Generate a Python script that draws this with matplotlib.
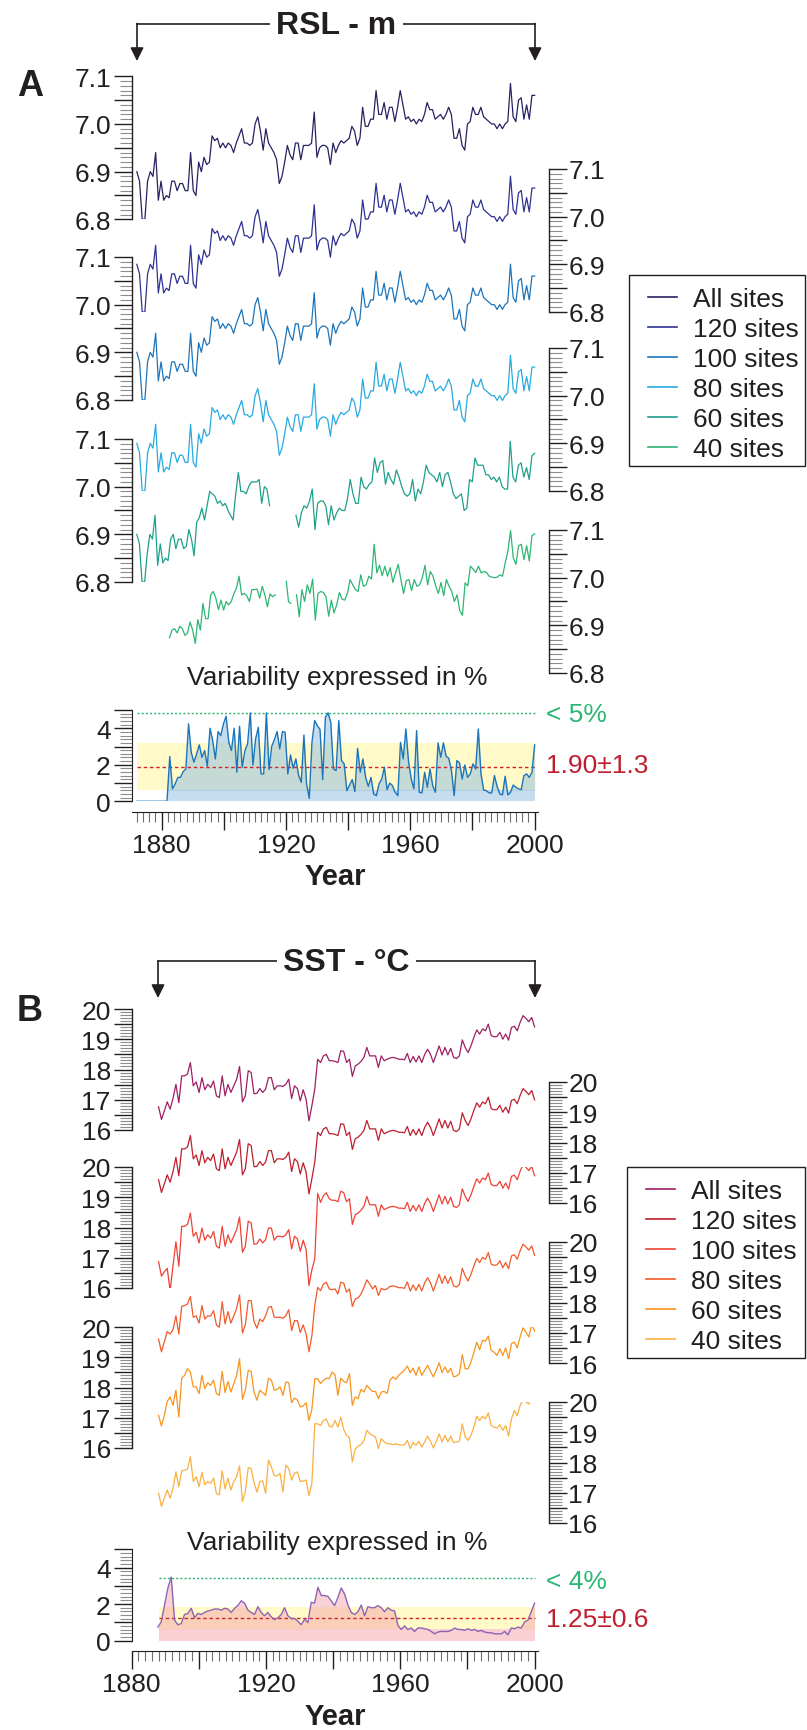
import numpy as np
import matplotlib
matplotlib.use('Agg')
import matplotlib.pyplot as plt
from matplotlib.ticker import MultipleLocator, FuncFormatter
from matplotlib.lines import Line2D
from matplotlib.patches import Rectangle, FancyArrowPatch

plt.rcParams['font.family'] = ['Liberation Sans', 'DejaVu Sans']

# ---------------------------------------------------------------- data
series_labels = ['All sites', '120 sites', '100 sites', '80 sites', '60 sites', '40 sites']
rsl_colors = ['#262262', '#2e3192', '#1c75bc', '#27aae1', '#1fa08c', '#2db573']
sst_colors = ['#9e1f63', '#be1e2d', '#ef4136', '#f15a29', '#f7941d', '#fbb040']

# RSL (m), read along 1872-2000
rsl_all = [6.90, 6.88, 6.80, 6.80, 6.88, 6.90, 6.89, 6.94, 6.84, 6.88, 6.84, 6.85, 6.845, 6.88, 6.88, 6.86,
           6.875, 6.875, 6.86, 6.86, 6.94, 6.86, 6.85, 6.92, 6.90, 6.93, 6.915, 6.92, 6.975, 6.965, 6.97,
           6.95, 6.96, 6.95, 6.96, 6.955, 6.94, 6.96, 6.975, 6.99, 6.96, 6.96, 6.955, 6.96, 7.00, 7.015,
           6.985, 6.945, 6.99, 6.96, 6.95, 6.94, 6.925, 6.875, 6.89, 6.92, 6.955, 6.935, 6.925, 6.96, 6.96,
           6.925, 6.955, 6.955, 6.955, 6.96, 7.025, 6.93, 6.95, 6.955, 6.955, 6.95, 6.915, 6.96, 6.94, 6.955,
           6.965, 6.96, 6.965, 6.97, 6.995, 6.985, 6.955, 6.97, 7.035, 6.995, 6.995, 7.01, 7.01, 7.07, 7.02,
           7.02, 7.045, 7.01, 7.035, 7.035, 7.005, 7.035, 7.07, 7.04, 7.01, 7.015, 7.005, 7.01, 7.0, 7.01,
           7.005, 7.02, 7.045, 7.03, 7.03, 7.01, 7.015, 7.02, 7.01, 7.02, 7.035, 7.02, 6.97, 6.97, 6.99,
           6.955, 6.945, 7.0, 7.005, 7.035, 7.02, 7.02, 7.035, 7.015, 7.01, 7.005, 7.0, 7.0, 6.99, 7.0, 6.99,
           7.0, 7.005, 7.085, 7.015, 7.005, 7.05, 7.055, 7.01, 7.04, 7.01, 7.06, 7.06]
rsl_120 = list(rsl_all)   # identical curve in the picture
rsl_100 = list(rsl_all)
rsl_80 = list(rsl_all)
rsl_60_a = [6.90, 6.88, 6.80, 6.80, 6.86, 6.90, 6.89, 6.94, 6.835, 6.88, 6.84, 6.85, 6.845, 6.89, 6.90, 6.87,
            6.89, 6.89, 6.87, 6.875, 6.91, 6.89, 6.855, 6.925, 6.935, 6.955, 6.93, 6.96, 6.99, 6.985, 6.98,
            6.965, 6.97, 6.96, 6.965, 6.95, 6.94, 6.93, 6.985, 7.03, 6.99, 6.99, 6.985, 7.0, 7.01, 7.01, 7.01,
            7.015, 6.965, 7.0, 6.995, 6.96]
rsl_60_b = [6.94, 6.915, 6.945, 6.96, 6.955, 6.97, 6.995, 6.91, 6.965, 6.97, 6.97, 6.96, 6.92, 6.96, 6.93,
            6.945, 6.955, 6.95, 6.95, 6.975, 7.015, 6.985, 6.965, 6.965, 7.02, 7.0, 6.995, 7.005, 7.01, 7.06,
            7.03, 7.05, 7.055, 7.005, 7.03, 7.015, 7.005, 7.035, 7.02, 7.0, 6.985, 6.98, 6.985, 7.015, 6.97,
            6.995, 6.985, 7.01, 7.045, 7.03, 7.025, 7.02, 7.01, 7.03, 7.0, 7.025, 7.03, 7.01, 6.985, 6.975,
            6.98, 6.985, 6.95, 6.955, 7.015, 7.01, 7.06, 7.045, 7.045, 7.045, 7.025, 7.025, 7.015, 7.02, 7.01,
            7.02, 7.0, 6.995, 6.995, 7.095, 7.02, 7.01, 7.045, 7.05, 7.02, 7.04, 7.015, 7.065, 7.07]
rsl_40_a = [6.874, 6.89, 6.893, 6.884, 6.898, 6.893, 6.879, 6.884, 6.907, 6.89, 6.862, 6.912, 6.89, 6.946,
            6.914, 6.914, 6.964, 6.971, 6.957, 6.933, 6.953, 6.932, 6.95, 6.943, 6.95, 6.967, 6.978, 7.003,
            6.964, 6.967, 6.962, 6.95, 6.975, 6.975, 6.976, 6.957, 6.982, 6.964, 6.939, 6.966, 6.96, 6.964]
rsl_40_b = [6.992, 6.95, 6.946]
rsl_40_c = [6.964, 6.918, 6.975, 6.95, 6.985, 6.967, 6.997, 6.911, 6.967, 6.971, 6.969, 6.96, 6.919, 6.953,
            6.926, 6.943, 6.969, 6.955, 6.953, 6.967, 6.996, 6.985, 6.975, 6.971, 7.006, 6.982, 6.985, 7.003,
            6.997, 7.07, 7.01, 7.026, 7.004, 7.024, 7.003, 7.021, 6.99, 7.01, 7.028, 6.996, 6.967, 6.994,
            6.996, 6.973, 6.996, 6.982, 6.985, 7.0, 7.026, 6.985, 7.013, 7.003, 6.983, 6.967, 6.99, 6.962,
            6.996, 6.982, 6.971, 6.95, 6.964, 6.931, 6.921, 6.989, 6.983, 7.024, 7.018, 7.011, 7.024, 7.01,
            7.013, 7.011, 7.003, 7.001, 7.0, 7.001, 7.006, 7.003, 7.031, 7.056, 7.099, 7.042, 7.028, 7.067,
            7.07, 7.038, 7.067, 7.035, 7.088, 7.092]
rsl_segments = [
    [(rsl_all, 1872, 2000)],
    [(rsl_120, 1872, 2000)],
    [(rsl_100, 1872, 2000)],
    [(rsl_80, 1872, 2000)],
    [(rsl_60_a, 1872, 1914.7), (rsl_60_b, 1923.2, 2000)],
    [(rsl_40_a, 1882.5, 1916.5), (rsl_40_b, 1920.1, 1921.5), (rsl_40_c, 1923.4, 2000)],
]

# SST (deg C), read along 1888-2000
sst_all = [16.77, 16.35, 16.63, 16.93, 16.69, 17.04, 17.51, 16.9, 17.79, 17.79,
           17.85, 18.23, 17.46, 17.59, 17.24, 17.73, 17.33, 17.51, 17.4, 17.62,
           17.13, 17.07, 17.79, 17.13, 17.51, 17.24, 17.46, 17.68, 18.1, 16.93,
           17.13, 17.96, 17.9, 17.2, 17.21, 17.37, 17.24, 17.35, 17.73, 17.73,
           17.33, 17.46, 17.46, 17.44, 17.51, 17.68, 17.04, 17.46, 17.37, 16.96,
           17.33, 17.02, 16.3, 16.8, 17.35, 18.34, 18.23, 18.45, 18.5, 18.29,
           18.29, 18.27, 18.23, 18.62, 18.6, 18.23, 18.34, 17.77, 18.12, 18.18,
           18.27, 18.4, 18.73, 18.45, 18.45, 18.45, 18.07, 18.45, 18.29, 18.34,
           18.38, 18.4, 18.38, 18.34, 18.34, 18.32, 18.53, 18.23, 18.43, 18.25,
           18.45, 18.23, 18.5, 18.67, 18.5, 18.23, 18.5, 18.78, 18.48, 18.73,
           18.48, 18.7, 18.4, 18.36, 18.45, 18.98, 18.73, 18.56, 18.78, 19.06,
           19.31, 19.17, 19.34, 19.28, 19.5, 19.12, 19.08, 19.09, 19.23, 19.0,
           19.17, 18.97, 19.39, 19.43, 19.28, 19.56, 19.78, 19.69, 19.58, 19.72,
           19.41]
sst_120 = list(sst_all)   # identical curve in the picture
sst_100 = [16.87, 16.39, 16.54, 16.65, 15.91, 16.74, 17.53, 16.72, 18.04, 18.04,
           18.1, 18.48, 17.71, 17.84, 17.49, 17.98, 17.58, 17.76, 17.65, 17.87,
           17.38, 17.32, 18.04, 17.38, 17.76, 17.49, 17.71, 17.93, 18.35, 17.18,
           17.38, 18.21, 18.15, 17.45, 17.46, 17.62, 17.49, 17.6, 17.98, 17.98,
           17.58, 17.71, 17.71, 17.69, 17.76, 17.93, 17.29, 17.71, 17.62, 17.21,
           17.58, 17.27, 16.08, 16.6, 16.96, 19.13, 18.83, 19.05, 19.15, 18.95,
           18.9, 18.9, 18.85, 19.2, 19.15, 18.85, 18.95, 18.1, 18.42, 18.48,
           18.57, 18.7, 19.03, 18.75, 18.75, 18.75, 18.37, 18.75, 18.59, 18.64,
           18.68, 18.7, 18.68, 18.64, 18.64, 18.62, 18.83, 18.53, 18.73, 18.55,
           18.75, 18.53, 18.8, 18.97, 18.8, 18.53, 18.8, 19.08, 18.78, 19.03,
           18.78, 19.0, 18.7, 18.66, 18.75, 19.28, 19.03, 18.86, 19.08, 19.36,
           19.61, 19.47, 19.64, 19.58, 19.8, 19.42, 19.38, 19.39, 19.53, 19.3,
           19.47, 19.27, 19.69, 19.73, 19.58, 19.86, 20.08, 19.99, 19.88, 20.02,
           19.71]
sst_80 = [16.79, 16.37, 16.7, 17.04, 16.96, 17.1, 17.56, 16.96, 17.87, 17.9,
          17.95, 18.2, 17.51, 17.56, 17.32, 17.9, 17.45, 17.56, 17.55, 17.73,
          17.26, 17.18, 18.03, 17.29, 17.7, 17.32, 17.56, 17.81, 18.25, 16.99,
          17.26, 18.06, 18.06, 17.37, 17.15, 17.45, 17.37, 17.56, 17.84, 17.87,
          17.51, 17.51, 17.51, 17.48, 17.56, 17.76, 17.07, 17.4, 17.4, 17.01,
          17.26, 16.96, 16.37, 16.9, 17.9, 18.5, 18.39, 18.61, 18.67, 18.45,
          18.42, 18.45, 18.28, 18.67, 18.64, 18.34, 18.45, 17.87, 18.12, 18.15,
          18.28, 18.5, 18.75, 18.61, 18.45, 18.56, 18.23, 18.47, 18.42, 18.45,
          18.53, 18.55, 18.53, 18.49, 18.49, 18.47, 18.68, 18.38, 18.58, 18.4,
          18.6, 18.38, 18.65, 18.82, 18.65, 18.38, 18.65, 18.93, 18.63, 18.88,
          18.63, 18.85, 18.55, 18.51, 18.6, 19.13, 18.88, 18.71, 18.93, 19.21,
          19.46, 19.32, 19.49, 19.43, 19.65, 19.27, 19.23, 19.24, 19.38, 19.15,
          19.32, 19.12, 19.54, 19.58, 19.43, 19.71, 19.93, 19.84, 19.73, 19.87,
          19.56]
sst_60 = [17.08, 16.73, 17.08, 17.54, 17.69, 17.41, 17.91, 17.02, 18.31, 18.4,
          18.62, 18.51, 18.02, 18.02, 17.8, 18.4, 17.96, 18.16, 18.07, 18.24,
          17.8, 17.74, 18.53, 17.83, 18.2, 17.85, 18.13, 18.4, 18.95, 17.61,
          17.91, 18.57, 18.53, 17.85, 17.58, 17.91, 17.83, 17.74, 18.31, 18.24,
          17.91, 17.94, 18.02, 17.74, 18.18, 18.16, 17.5, 17.65, 17.58, 17.36,
          17.39, 17.5, 16.91, 17.28, 18.29, 18.29, 18.13, 18.24, 18.31, 18.29,
          18.51, 18.42, 17.74, 18.31, 18.2, 18.16, 18.46, 17.41, 17.69, 17.63,
          17.94, 17.85, 18.07, 17.96, 17.87, 17.87, 17.63, 17.85, 17.87, 17.8,
          18.24, 18.35, 18.27, 18.4, 18.49, 18.57, 18.71, 18.49, 18.64, 18.4,
          18.68, 18.4, 18.57, 18.73, 18.53, 18.35, 18.57, 18.82, 18.49, 18.68,
          18.49, 18.64, 18.35, 18.38, 18.46, 19.09, 18.62, 18.62, 18.84, 19.15,
          19.5, 19.25, 19.56, 19.53, 19.7, 19.23, 19.17, 19.06, 19.28, 19.06,
          19.31, 18.95, 19.45, 19.5, 19.31, 19.67, 19.97, 19.83, 19.67, 20.08,
          19.86]
sst_40 = [16.98, 16.55, 16.82, 17.09, 16.82, 17.15, 17.69, 17.2, 17.72, 17.75,
          17.78, 18.19, 17.37, 17.53, 17.2, 17.67, 17.26, 17.37, 17.31, 17.48,
          16.98, 16.93, 17.72, 17.13, 17.48, 17.09, 17.37, 17.53, 17.89, 16.71,
          17.04, 17.83, 17.8, 17.34, 17.02, 17.37, 17.39, 16.98, 18.08, 17.86,
          17.56, 17.56, 17.64, 17.02, 17.91, 17.8, 17.42, 17.64, 17.69, 17.37,
          17.39, 17.42, 16.91, 17.31, 19.28, 19.28, 19.22, 19.39, 19.44, 19.2,
          19.17, 19.39, 19.17, 19.5, 19.09, 18.9, 18.81, 18.02, 18.44, 18.55,
          18.59, 18.73, 19.06, 18.95, 18.9, 18.84, 18.46, 18.79, 18.68, 18.62,
          18.62, 18.59, 18.62, 18.59, 18.57, 18.59, 18.73, 18.46, 18.66, 18.57,
          18.7, 18.51, 18.68, 18.87, 18.7, 18.48, 18.7, 18.95, 18.68, 18.9,
          18.68, 18.87, 18.66, 18.68, 18.7, 19.28, 18.84, 18.73, 18.9, 19.17,
          19.53, 19.39, 19.53, 19.44, 19.64, 19.22, 19.17, 19.14, 19.25, 19.06,
          19.22, 18.87, 19.44, 19.72, 19.55, 19.88, 20.07, 20.01, 19.93, 20.43,
          20.34]
sst_series = [sst_all, sst_120, sst_100, sst_80, sst_60, sst_40]
sst_span = (1888, 2000)

# Variability (%)
var_a_lead_years = [1872, 1881.7]
var_a_lead = [0.0, 0.0]
var_a_span = (1882.6, 2000)
var_a = [2.45, 0.68, 0.95, 1.31, 1.31, 1.63, 1.77, 4.24, 2.68, 2.14, 2.59, 3.09, 2.41, 2.78, 1.92, 4.0,
         3.32, 2.32, 3.82, 3.6, 4.24, 4.66, 3.23, 2.78, 4.0, 1.59, 4.11, 1.86, 2.78, 3.14, 4.84, 1.99, 3.42,
         4.05, 1.5, 1.5, 4.84, 1.74, 3.01, 3.38, 3.82, 2.87, 3.82, 3.78, 1.5, 2.54, 1.81, 2.32, 1.44, 1.04,
         3.63, 0.95, 0.16, 3.23, 4.42, 4.15, 3.93, 1.19, 4.6, 4.84, 4.33, 1.77, 1.68, 4.42, 2.23, 2.05, 0.58,
         0.89, 1.19, 0.53, 2.9, 1.59, 2.32, 1.31, 0.82, 1.31, 0.4, 0.31, 0.95, 1.22, 1.86, 0.64, 1.0, 0.86,
         0.49, 0.31, 3.23, 2.32, 3.96, 2.17, 1.22, 0.68, 3.87, 0.49, 0.46, 1.59, 0.77, 1.77, 0.86, 0.49, 3.2,
         2.41, 3.2, 2.47, 2.36, 1.68, 0.31, 2.23, 2.1, 1.22, 1.99, 1.31, 1.5, 2.05, 1.77, 3.96, 1.5, 0.62,
         0.58, 0.46, 0.46, 1.41, 0.82, 0.4, 0.35, 1.37, 0.35, 0.49, 0.89, 0.77, 0.68, 0.64, 1.41, 1.5, 1.31,
         1.59, 3.09]
var_a_mean, var_a_sd, var_a_limit = 1.90, 1.3, 4.85
var_a_band_span = (1872, 2000)
var_a_base_span = (1882, 2000)

var_b_span = (1887.8, 2000)
var_b = [0.74, 1.02, 1.95, 2.88, 3.48, 1.12, 0.87, 0.93, 1.43, 1.49, 1.77, 1.25, 1.49, 1.43, 1.54, 1.62,
         1.67, 1.73, 1.73, 1.67, 1.77, 1.73, 1.54, 1.77, 1.92, 2.18, 2.05, 1.67, 1.54, 1.43, 1.86, 1.54,
         1.36, 1.54, 1.3, 1.15, 1.25, 1.43, 1.8, 1.36, 1.21, 1.21, 1.06, 0.87, 1.17, 0.99, 2.1, 2.05, 2.92,
         2.47, 2.47, 2.42, 2.18, 1.92, 2.36, 2.88, 2.55, 1.95, 1.54, 1.43, 1.58, 1.95, 1.36, 1.86, 1.8, 1.8,
         1.92, 1.8, 1.58, 1.8, 1.67, 1.62, 0.84, 0.61, 0.8, 0.61, 0.69, 0.5, 0.69, 0.69, 0.65, 0.61, 0.5,
         0.37, 0.47, 0.5, 0.5, 0.5, 0.56, 0.69, 0.61, 0.61, 0.56, 0.65, 0.56, 0.61, 0.5, 0.56, 0.47, 0.43,
         0.43, 0.37, 0.37, 0.37, 0.5, 0.32, 0.69, 0.65, 0.74, 0.69, 1.02, 1.12, 1.58, 2.05]
var_b_mean, var_b_sd, var_b_limit = 1.25, 0.6, 3.45
var_b_band_span = (1888, 2000)

# ---------------------------------------------------------------- layout (pixels)
W, H = 807, 1731
INK = '#231f20'
FS = 19
fig = plt.figure(figsize=(W / 100, H / 100), dpi=100)


def add_ax(x0, ytop, w, h):
    return fig.add_axes([x0 / W, 1 - (ytop + h) / H, w / W, h / H])


X0, XSPINE_R, XYEAR_END = 131.7, 549.0, 537.5
A_pxyr, A_x0year = 3.108, 1870.35
B_pxyr, B_x0year = 3.3575, 1880.0
A_tops = [77.3, 170, 258, 349, 440, 531]
B_tops = [1010, 1083, 1168, 1243, 1328, 1403]
sides = ['left', 'right', 'left', 'right', 'left', 'right']


def major_fmt(major, fmt):
    return FuncFormatter(lambda v, p: fmt.format(v) if abs(v / major - round(v / major)) < 1e-6 else '')


def style_y(ax, side, major, mid, minor, fmt):
    ax.yaxis.set_major_locator(MultipleLocator(mid))
    ax.yaxis.set_minor_locator(MultipleLocator(minor))
    ax.yaxis.set_major_formatter(major_fmt(major, fmt))
    if side == 'left':
        ax.yaxis.tick_left()
        pad = 2.0
    else:
        ax.yaxis.tick_right()
        pad = 1.0
    ax.tick_params(axis='y', which='major', direction='out', length=13, width=1.0,
                   color=INK, labelcolor=INK, labelsize=FS, pad=pad)
    ax.tick_params(axis='y', which='minor', direction='out', length=9, width=0.8, color='#8a8c8e')


def stack_axes(tops, h, x0year, pxyr, ylim, major, mid, minor, fmt):
    axes = []
    for top, side in zip(tops, sides):
        ax = add_ax(X0, top, XSPINE_R - X0, h)
        ax.set_xlim(x0year, x0year + (XSPINE_R - X0) / pxyr)
        ax.set_ylim(*ylim)
        ax.set_facecolor('none')
        for s in ax.spines:
            ax.spines[s].set_visible(s == side)
        ax.spines[side].set_color(INK)
        ax.spines[side].set_linewidth(1.0)
        ax.tick_params(axis='x', which='both', bottom=False, top=False, labelbottom=False)
        style_y(ax, side, major, mid, minor, fmt)
        axes.append(ax)
    return axes


# ----------------------------------------- panel A stacked RSL
rsl_axes = stack_axes(A_tops, 143, A_x0year, A_pxyr, (6.8, 7.1), 0.1, 0.05, 0.01, '{:.1f}')
rsl_handles = []
for ax, segs, col in zip(rsl_axes, rsl_segments, rsl_colors):
    for vals, y0, y1 in segs:
        ax.plot(np.linspace(y0, y1, len(vals)), vals, color=col, lw=0.9)
    rsl_handles.append(Line2D([], [], color=col, lw=1.2))

# ----------------------------------------- panel B stacked SST
sst_axes = stack_axes(B_tops, 121, B_x0year, B_pxyr, (16, 20), 1, 0.5, 0.1, '{:.0f}')
sst_handles = []
for ax, vals, col in zip(sst_axes, sst_series, sst_colors):
    ax.plot(np.linspace(sst_span[0], sst_span[1], len(vals)), vals, color=col, lw=0.9)
    sst_handles.append(Line2D([], [], color=col, lw=1.2))


# ----------------------------------------- variability panels
def var_axes(top, x0year, pxyr):
    ax = add_ax(X0, top, XYEAR_END - X0, 91.3)
    ax.set_xlim(x0year, x0year + (XYEAR_END - X0) / pxyr)
    ax.set_ylim(0, 5)
    ax.set_facecolor('none')
    for s in ['top', 'right']:
        ax.spines[s].set_visible(False)
    ax.spines['left'].set_color(INK)
    ax.spines['bottom'].set_color(INK)
    ax.spines['bottom'].set_position(('outward', 7.8))
    style_y(ax, 'left', 2, 1, 0.2, '{:.0f}')
    ax.xaxis.set_major_locator(MultipleLocator(20))
    ax.xaxis.set_minor_locator(MultipleLocator(2))
    ax.xaxis.set_major_formatter(major_fmt(40, '{:.0f}'))
    ax.tick_params(axis='x', which='major', direction='out', length=13, width=1.0,
                   color=INK, labelcolor=INK, labelsize=FS, pad=2)
    ax.tick_params(axis='x', which='minor', direction='out', length=7, width=0.8, color='#6d6e71')
    return ax


axa = var_axes(711.0, A_x0year, A_pxyr)
axa.fill_between(var_a_base_span, 0, var_a_mean - var_a_sd, color='#c6dcef', lw=0)
axa.fill_between(var_a_band_span, var_a_mean - var_a_sd, var_a_mean + var_a_sd, color='#fffac8', lw=0)
ya = np.concatenate([var_a_lead_years, np.linspace(var_a_span[0], var_a_span[1], len(var_a))])
va = np.concatenate([var_a_lead, var_a])
axa.fill_between(ya, var_a_mean - var_a_sd, np.maximum(va, var_a_mean - var_a_sd), color='#8dbbe0', alpha=0.5, lw=0)
axa.hlines(var_a_mean, *var_a_band_span, colors='#d2232a', linestyles=(0, (2.5, 2)), lw=1.0)
axa.hlines(var_a_limit, *var_a_band_span, colors='#2bb673', linestyles=(0, (1.5, 1.5)), lw=1.0)
axa.plot(ya, va, color='#1b75bc', lw=1.0)

axb = var_axes(1550.3, B_x0year, B_pxyr)
yb = np.linspace(var_b_span[0], var_b_span[1], len(var_b))
vb = np.array(var_b)
axb.fill_between(var_b_band_span, 0, var_b_mean - var_b_sd, color='#f9d0d4', lw=0)
axb.fill_between(var_b_band_span, var_b_mean - var_b_sd, var_b_mean + var_b_sd, color='#fffac8', lw=0)
axb.fill_between(yb, var_b_mean - var_b_sd, np.maximum(vb, var_b_mean - var_b_sd), color='#f4a6ad', alpha=0.5, lw=0)
axb.hlines(var_b_mean, *var_b_band_span, colors='#d2232a', linestyles=(0, (2.5, 2)), lw=1.0)
axb.hlines(var_b_limit, *var_b_band_span, colors='#2bb673', linestyles=(0, (1.5, 1.5)), lw=1.0)
axb.plot(yb, vb, color='#8e63b5', lw=1.0)


# ----------------------------------------- texts, arrows, legends
def ftext(x, y, s, **kw):
    return fig.text(x / W, 1 - y / H, s, **kw)


def bracket(xl, xr, yline, ytip, xc, label):
    fig.add_artist(Line2D([xl / W, xr / W], [1 - yline / H] * 2, transform=fig.transFigure, color=INK, lw=1.2))
    for x in (xl, xr):
        fig.add_artist(FancyArrowPatch((x / W, 1 - yline / H), (x / W, 1 - ytip / H), transform=fig.transFigure,
                                       arrowstyle='-|>', mutation_scale=20, lw=1.2, color=INK,
                                       shrinkA=0, shrinkB=0))
    ftext(xc, yline + 1, label, ha='center', va='center', fontsize=23, fontweight='bold', color=INK,
          bbox=dict(fc='white', ec='none', pad=4.5))


bracket(137, 535, 24.5, 62, 336.5, 'RSL - m')
bracket(158, 535, 962, 999, 346.5, 'SST - °C')
ftext(30, 86, 'A', fontsize=26, fontweight='bold', ha='center', va='center', color=INK)
ftext(30, 1012, 'B', fontsize=26, fontweight='bold', ha='center', va='center', color=INK)

for yv, yyear in [(678, 877), (1543, 1717)]:
    ftext(337, yv, 'Variability expressed in %', ha='center', va='center', fontsize=FS, color=INK)
    ftext(335, yyear, 'Year', ha='center', va='center', fontsize=21, fontweight='bold', color=INK)

ftext(546, 715, '< 5%', ha='left', va='center', fontsize=FS, color='#2bb673')
ftext(546, 766, '1.90±1.3', ha='left', va='center', fontsize=FS, color='#be1e2d')
ftext(546, 1582, '< 4%', ha='left', va='center', fontsize=FS, color='#2bb673')
ftext(546, 1620, '1.25±0.6', ha='left', va='center', fontsize=FS, color='#be1e2d')


def legend_box(handles, x_frame, y_frame, x_handle, y_first):
    fig.add_artist(Rectangle((x_frame / W, 1 - (y_frame + 191) / H), (805 - x_frame) / W, 191 / H,
                             transform=fig.transFigure, fill=False, ec=INK, lw=1.0))
    fig.legend(handles, series_labels, loc='upper left',
               bbox_to_anchor=(x_handle / W, 1 - (y_first - 10) / H), bbox_transform=fig.transFigure,
               frameon=False, fontsize=FS, handlelength=1.1, handletextpad=0.6, labelspacing=0.227,
               borderpad=0, borderaxespad=0, labelcolor=INK)


legend_box(rsl_handles, 629, 276, 648, 298)
legend_box(sst_handles, 627, 1168, 646, 1190)

fig.savefig('out.png', dpi=100)
